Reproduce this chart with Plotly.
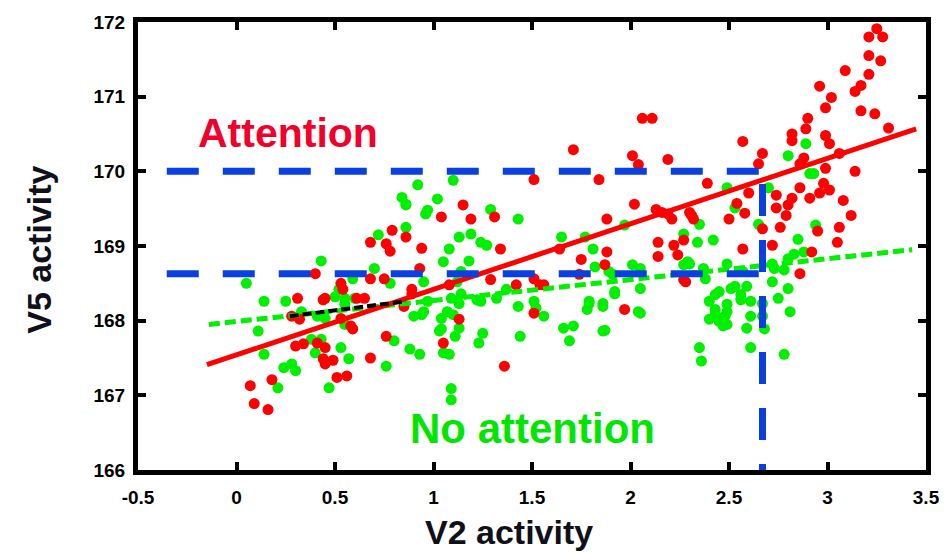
import plotly.graph_objects as go

# ---------------- data ----------------
att_x = [3.25, 3.21, 3.28, 3.21, 3.27, 3.09, 3.21, 2.96, 3.17, 3.14, 3.02, 2.99, 3.17, 3.24, 2.90,
         2.89, 2.82, 2.82, 2.99, 3.01, 3.31, 2.57, 2.67, 2.65, 2.19, 2.88, 2.86, 3.06, 2.99, 3.14,
         2.39, 2.86, 2.98, 3.01, 2.96, 2.60, 2.74, 2.82, 2.91, 3.08, 2.54, 2.74, 2.80, 2.58, 2.79,
         3.12, 2.30, 2.50, 3.06, 2.76, 2.67, 2.95, 3.05, 2.57, 2.72, 2.92, 2.86, 2.14, 2.22, 2.24,
         2.14, 2.27, 2.28, 2.16, 2.21, 2.32, 2.02, 2.13, 2.19, 2.31, 1.88, 1.75, 1.88, 1.87, 1.74,
         2.27, 1.97, 1.54, 2.06, 2.11, 1.71, 2.01, 2.04, 1.51, 1.84, 1.15, 1.04, 1.19, 1.31, 0.86,
         0.94, 1.34, 1.64, 0.93, 1.29, 1.42, 1.51, 1.56, 0.89, 0.85, 0.89, 1.08, 1.13, 1.05, 1.51,
         1.36, 0.40, 0.68, 0.79, 0.76, 0.78, 0.53, 0.54, 0.68, 0.75, 0.31, 0.45, 0.61, 0.65, 0.44,
         0.28, 0.32, 0.53, 0.58, 0.59, 0.76, 0.30, 0.34, 0.41, 0.45, 0.44, 0.49, 0.45, 0.68, 0.51,
         0.56, 0.07, 0.18, 0.09, 0.16]
att_y = [171.91, 171.80, 171.80, 171.55, 171.48, 171.35, 171.30, 171.14, 171.15, 171.07, 170.99, 170.85, 170.81, 170.77, 170.71,
         170.57, 170.50, 170.41, 170.48, 170.37, 170.58, 170.40, 170.24, 170.10, 170.16, 170.18, 170.10, 170.24, 170.04, 170.00,
         169.84, 169.78, 169.84, 169.75, 169.71, 169.71, 169.68, 169.64, 169.64, 169.61, 169.57, 169.51, 169.55, 169.44, 169.41,
         169.41, 169.45, 169.36, 169.25, 169.25, 169.23, 169.20, 169.05, 168.96, 169.01, 168.92, 168.63, 169.05, 169.01, 168.88,
         168.86, 169.08, 168.52, 169.45, 169.36, 169.36, 169.56, 169.49, 169.43, 169.41, 169.36, 168.82, 168.92, 168.75, 168.62,
         168.55, 168.15, 168.48, 170.71, 170.71, 170.29, 170.21, 170.09, 169.89, 169.89, 169.55, 169.39, 169.36, 169.39, 169.12,
         168.97, 168.96, 168.96, 168.70, 168.55, 168.48, 168.56, 168.48, 168.42, 168.19, 168.36, 168.48, 168.02, 167.70, 168.10,
         167.39, 168.63, 169.05, 169.21, 169.03, 168.93, 168.50, 168.42, 168.56, 168.56, 168.30, 168.30, 168.30, 168.30, 168.28,
         168.06, 168.02, 168.03, 167.93, 167.89, 167.79, 167.66, 167.69, 167.70, 167.64, 167.49, 167.47, 167.42, 167.50, 167.24,
         167.26, 167.13, 167.21, 166.89, 166.81]

noatt_x = [0.05, 0.43, 0.72, 0.70, 0.59, 0.78, 0.14, 0.25, 0.50, 0.55, 0.11, 0.14, 0.24, 0.28, 0.30,
           0.21, 0.40, 0.38, 0.43, 0.53, 0.57, 0.47, 0.76, 0.80, 0.55, 0.41, 0.45, 0.55, 0.33, 0.86,
           0.86, 0.97, 1.13, 1.19, 1.24, 1.27, 1.29, 1.43, 1.08, 1.05, 1.18, 0.95, 1.12, 1.32, 1.43,
           1.22, 1.07, 0.90, 0.95, 1.04, 1.11, 1.13, 1.25, 1.23, 1.44, 1.05, 1.08, 0.93, 0.88, 1.09,
           1.09, 0.52, 0.60, 1.37, 1.09, 1.14, 0.92, 1.10, 0.84, 0.86, 0.96, 1.02, 1.65, 1.77, 1.81,
           1.82, 1.97, 2.01, 2.05, 1.89, 1.14, 0.94, 0.97, 1.04, 1.10, 1.13, 1.03, 1.24, 1.51, 1.56,
           1.66, 1.71, 1.69, 1.79, 1.78, 1.86, 1.87, 1.92, 2.05, 2.05, 2.27, 2.34, 2.42, 2.35, 2.29,
           1.91, 1.92, 1.86, 1.79, 2.04, 1.86, 1.52, 2.40, 2.43, 2.51, 2.49, 2.43, 2.56, 2.61, 2.45,
           2.49, 2.61, 2.67, 2.59, 2.35, 2.36, 2.61, 2.78, 2.72, 2.73, 2.80, 2.81, 2.83, 2.88, 2.85,
           2.94, 2.70, 2.49, 2.65, 2.80, 2.78, 2.72, 2.37, 2.49, 2.57, 2.38, 2.45, 2.53, 2.59, 2.56,
           2.75, 2.43, 2.49, 2.67, 2.40, 2.48, 2.47, 2.68, 2.27, 2.30, 2.89, 2.80, 2.91, 2.93, 2.53]
noatt_y = [168.50, 168.80, 169.15, 168.70, 168.56, 168.50, 168.26, 168.26, 168.32, 168.30, 167.86, 167.55, 167.37, 167.42, 167.33,
           167.10, 167.57, 167.75, 167.75, 167.64, 167.49, 167.10, 167.39, 167.73, 168.22, 168.06, 168.03, 167.95, 168.12, 169.25,
           169.56, 169.48, 169.12, 169.16, 169.05, 169.01, 169.49, 169.36, 168.96, 168.79, 168.80, 168.52, 168.52, 168.30, 168.19,
           168.28, 168.12, 168.06, 168.12, 167.89, 167.79, 167.90, 167.83, 167.70, 167.79, 167.57, 167.55, 167.55, 167.62, 167.09,
           166.94, 168.42, 168.30, 168.42, 168.30, 168.36, 169.82, 169.88, 169.65, 169.55, 169.43, 169.63, 169.12, 169.12, 168.96,
           168.72, 169.28, 168.75, 168.70, 168.66, 168.66, 168.08, 168.26, 168.03, 168.08, 168.23, 167.86, 168.26, 168.26, 168.06,
           167.90, 167.93, 167.73, 168.23, 168.15, 168.19, 167.87, 168.36, 168.43, 168.10, 169.16, 169.05, 169.08, 169.29, 168.79,
           168.62, 168.39, 168.23, 168.26, 168.12, 167.86, 168.17, 168.26, 168.35, 168.43, 168.22, 168.08, 168.35, 168.26, 167.99,
           167.95, 168.06, 168.06, 167.90, 167.64, 167.46, 167.64, 167.55, 168.52, 168.70, 168.43, 168.12, 168.89, 168.92, 169.09,
           169.28, 169.78, 169.78, 169.29, 168.83, 168.68, 168.76, 168.70, 168.76, 168.66, 168.56, 168.39, 168.46, 168.46, 168.28,
           168.30, 168.15, 168.12, 168.23, 168.02, 168.06, 167.93, 167.89, 168.75, 168.76, 170.37, 170.21, 169.97, 169.97, 169.51]

# regression lines (end points)
att_fit_x = [-0.15, 3.45]
att_fit_y = [167.41, 170.57]
noatt_fit_x = [-0.14, 3.43]
noatt_fit_y = [167.95, 168.95]
extra_fit_x = [0.27, 0.86]
extra_fit_y = [168.06, 168.26]

# blue reference lines
ref_v2 = 2.67
att_v5 = 170.0
noatt_v5 = 168.63
hline_start = -0.354
vline_top = 169.83

x_ticks = [-0.5, 0, 0.5, 1, 1.5, 2, 2.5, 3, 3.5]
x_ticktext = ["-0.5", "0", "0.5", "1", "1.5", "2", "2.5", "3", "3.5"]
y_ticks = [166, 167, 168, 169, 170, 171, 172]
y_ticktext = ["166", "167", "168", "169", "170", "171", "172"]

RED = "#ff0000"
GREEN = "#00f000"
BLUE = "#0b40e0"

fig = go.Figure()
fig.add_trace(go.Scatter(x=noatt_x, y=noatt_y, mode="markers",
                         marker=dict(color=GREEN, size=11, line=dict(width=0)), showlegend=False))
fig.add_trace(go.Scatter(x=att_x, y=att_y, mode="markers",
                         marker=dict(color=RED, size=11, line=dict(width=0)), showlegend=False))
fig.add_trace(go.Scatter(x=noatt_fit_x, y=noatt_fit_y, mode="lines",
                         line=dict(color=GREEN, width=5, dash="11px,5px"), showlegend=False))
fig.add_trace(go.Scatter(x=att_fit_x, y=att_fit_y, mode="lines",
                         line=dict(color=RED, width=5), showlegend=False))
fig.add_trace(go.Scatter(x=extra_fit_x, y=extra_fit_y, mode="lines",
                         line=dict(color="black", width=4, dash="9px,4px"), showlegend=False))

dash_line = dict(color=BLUE, width=7, dash="32px,24px")
fig.add_shape(type="line", x0=hline_start, x1=ref_v2, y0=att_v5, y1=att_v5, line=dash_line, layer="above")
fig.add_shape(type="line", x0=hline_start, x1=ref_v2, y0=noatt_v5, y1=noatt_v5, line=dash_line, layer="above")
fig.add_shape(type="line", x0=ref_v2, x1=ref_v2, y0=vline_top, y1=166, line=dash_line, layer="above")

fig.add_annotation(x=0.26, y=170.52, text="Attention", showarrow=False,
                   font=dict(family="Liberation Sans, Arial", size=41, color="#f0002a", weight="bold"))
fig.add_annotation(x=1.50, y=166.55, text="No attention", showarrow=False,
                   font=dict(family="Liberation Sans, Arial", size=42, color="#00e600", weight="bold"))

title_font = dict(family="Liberation Sans, Arial", size=34, color="#10101a", weight="bold")
fig.add_annotation(xref="paper", yref="paper", x=0.471, y=-0.138, text="V2 activity",
                   showarrow=False, font=title_font, xanchor="center", yanchor="middle")
fig.add_annotation(xref="paper", yref="paper", x=-0.126, y=0.491, text="V5 activity",
                   showarrow=False, font=title_font, textangle=-90, xanchor="center", yanchor="middle")

tick_font = dict(family="Liberation Sans, Arial", size=19, color="black", weight="bold")
axis_common = dict(showline=True, linewidth=5, linecolor="black", mirror="ticks",
                   ticks="inside", ticklen=8, tickwidth=4, tickcolor="black",
                   showgrid=False, zeroline=False, tickfont=tick_font)
fig.update_xaxes(range=[-0.5, 3.5], tickvals=x_ticks, ticktext=x_ticktext,
                 ticklabelstandoff=6, **axis_common)
fig.update_yaxes(range=[166, 172], tickvals=y_ticks, ticktext=y_ticktext,
                 ticklabelstandoff=4, **axis_common)

fig.update_layout(width=952, height=552, margin=dict(l=138, r=20, t=18, b=82),
                  paper_bgcolor="white", plot_bgcolor="white")

fig.write_html("out.html")
